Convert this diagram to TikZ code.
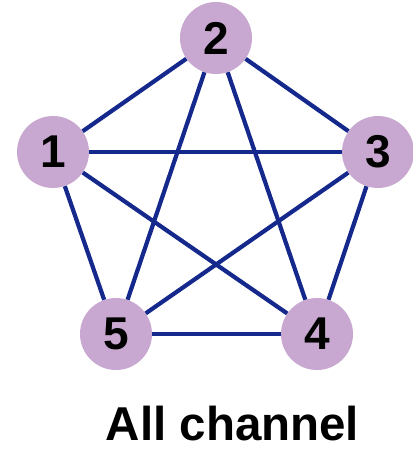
\documentclass[tikz,border=0pt]{standalone}
\usepackage{fontspec}
\setmainfont{Liberation Sans}
\usepackage{tikz}
\definecolor{lilac}{HTML}{C8A8D0}
\definecolor{linkblue}{HTML}{15288C}

\begin{document}
\begin{tikzpicture}[x=1pt, y=-1pt,
		member/.style={circle, fill=lilac, minimum size=72pt, inner sep=0pt,
			font=\fontsize{46}{46}\selectfont\bfseries},
		link/.style={draw=linkblue, line width=4.2pt}]
			\useasboundingbox (0,0) rectangle (412,449);
			
			\node[member] (n2) at (216,38) {2};
			\node[member] (n1) at (53,152) {1}; \node[member] (n3) at (378,152) {3};
			\node[member] (n5) at (116,334) {5}; \node[member] (n4) at (317,334) {4};
			
			\foreach \a/\b in {1/2, 1/3, 1/4, 1/5, 2/3, 2/4, 2/5, 3/4, 3/5, 4/5}
				\draw[link] (n\a) -- (n\b);
			
			\node[font=\fontsize{47.5}{47.5}\selectfont\bfseries, anchor=base] (title) at (232.5,440) {All channel};
		\end{tikzpicture}
\end{document}
